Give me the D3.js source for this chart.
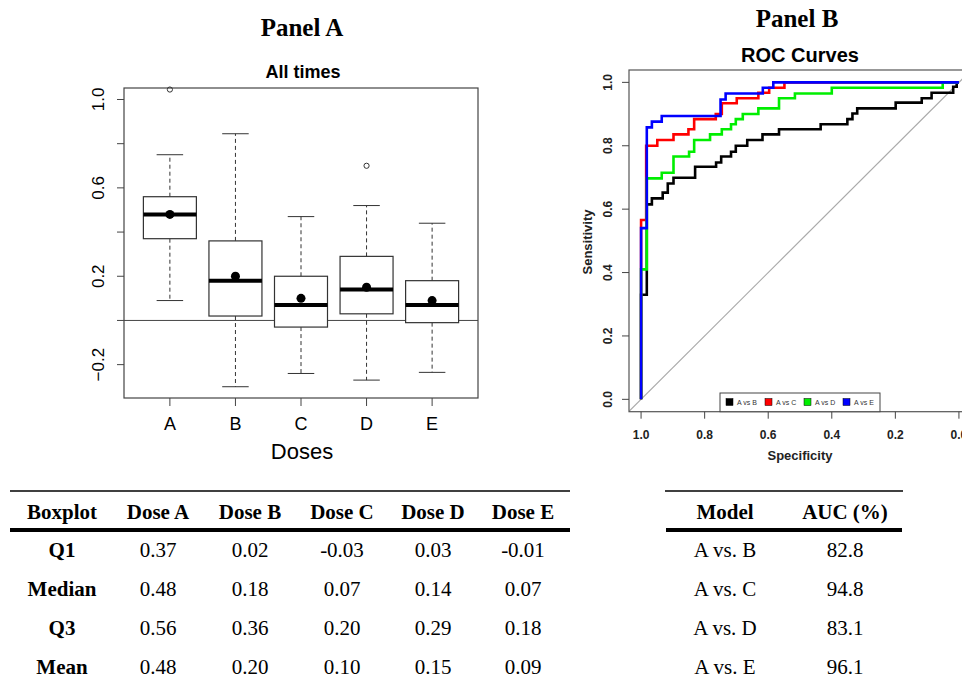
<!DOCTYPE html>
<html>
<head>
<meta charset="utf-8">
<title>Panels A and B</title>
<style>
  body { margin: 0; background: #fff; }
  svg { display: block; }
  .serif { font-family: "Liberation Serif", "Times New Roman", serif; }
  .sans { font-family: "Liberation Sans", Arial, sans-serif; }
</style>
</head>
<body>
<script src="https://cdnjs.cloudflare.com/ajax/libs/d3/7.8.5/d3.min.js"></script>
<script>
// ---- boxplot data (Panel A) ----
const doses = ['A', 'B', 'C', 'D', 'E'];
const q1 = [0.37, 0.02, -0.03, 0.03, -0.01];
const median = [0.48, 0.18, 0.07, 0.14, 0.07];
const q3 = [0.56, 0.36, 0.20, 0.29, 0.18];
const mean = [0.48, 0.20, 0.10, 0.15, 0.09];
const whiskLo = [0.09, -0.30, -0.24, -0.27, -0.235];
const whiskHi = [0.75, 0.845, 0.47, 0.52, 0.44];
const outliers = [[1.045], [], [], [0.70], []];
const yTicksA = [-0.2, 0, 0.2, 0.4, 0.6, 0.8, 1.0];
const yLabelsA = [-0.2, 0.2, 0.6, 1.0];

// ---- ROC data (Panel B), points joined vertical-then-horizontal ----
const rocNames = ['A vs B', 'A vs C', 'A vs D', 'A vs E'];
const rocColors = ['black', 'red', '#00ee00', 'blue'];
const specAB = [1, 0.982, 0.966, 0.932, 0.916, 0.898, 0.83, 0.764, 0.748, 0.717, 0.702, 0.666, 0.618, 0.566, 0.435, 0.351, 0.335, 0.32, 0.199, 0.117, 0.086, 0.018, 0.007, 0];
const sensAB = [0, 0.33, 0.615, 0.634, 0.652, 0.681, 0.699, 0.734, 0.747, 0.766, 0.781, 0.80, 0.818, 0.836, 0.852, 0.868, 0.884, 0.902, 0.918, 0.936, 0.95, 0.967, 0.986, 1.0];
const specAC = [1, 0.984, 0.949, 0.898, 0.851, 0.833, 0.765, 0.746, 0.699, 0.631, 0.597, 0.549, 0];
const sensAC = [0, 0.566, 0.80, 0.818, 0.836, 0.852, 0.884, 0.90, 0.934, 0.95, 0.967, 0.983, 1.0];
const specAD = [1, 0.982, 0.935, 0.898, 0.849, 0.833, 0.783, 0.746, 0.717, 0.702, 0.68, 0.631, 0.566, 0.516, 0.40, 0.051, 0];
const sensAD = [0, 0.41, 0.697, 0.715, 0.766, 0.781, 0.818, 0.836, 0.852, 0.868, 0.884, 0.90, 0.918, 0.95, 0.965, 0.983, 1.0];
const specAE = [1, 0.982, 0.966, 0.935, 0.75, 0.734, 0.617, 0.584, 0];
const sensAE = [0, 0.54, 0.858, 0.876, 0.894, 0.946, 0.965, 0.983, 1.0];
const rocTicks = [0, 0.2, 0.4, 0.6, 0.8, 1.0];

// ---- tables ----
const boxRows = ['Q1', 'Median', 'Q3', 'Mean'];
const boxHeader = ['Boxplot', 'Dose A', 'Dose B', 'Dose C', 'Dose D', 'Dose E'];
const aucModels = ['A vs. B', 'A vs. C', 'A vs. D', 'A vs. E'];
const aucValues = ['82.8', '94.8', '83.1', '96.1'];

const svg = d3.select('body').append('svg')
  .attr('width', 962).attr('height', 678);

// ================= Panel A =================
const boxA = {l: 124, r: 478, t: 88, b: 398};
const xA = d3.scalePoint().domain(doses).range([boxA.l, boxA.r]).padding(0.7);
const yA = d3.scaleLinear().domain([-0.351, 1.052]).range([boxA.b, boxA.t]);
const bw = 53;

svg.append('text').attr('class', 'serif').attr('x', 302).attr('y', 36)
  .attr('text-anchor', 'middle').attr('font-size', 25).attr('font-weight', 'bold').text('Panel A');
svg.append('text').attr('class', 'sans').attr('x', 303).attr('y', 78)
  .attr('text-anchor', 'middle').attr('font-size', 18).attr('font-weight', 'bold').text('All times');

const gA = svg.append('g');
gA.append('rect').attr('x', boxA.l).attr('y', boxA.t)
  .attr('width', boxA.r - boxA.l).attr('height', boxA.b - boxA.t)
  .attr('fill', 'none').attr('stroke', '#444').attr('stroke-width', 1.2);

// zero line
gA.append('line').attr('x1', boxA.l).attr('x2', boxA.r)
  .attr('y1', yA(0)).attr('y2', yA(0)).attr('stroke', '#444');

// y axis ticks
gA.selectAll('.ytick').data(yTicksA).enter().append('line')
  .attr('x1', boxA.l - 7).attr('x2', boxA.l)
  .attr('y1', d => yA(d)).attr('y2', d => yA(d)).attr('stroke', '#444');
gA.selectAll('.ylab').data(yLabelsA).enter().append('text')
  .attr('class', 'sans').attr('font-size', 17).attr('text-anchor', 'middle')
  .attr('transform', d => `translate(104,${yA(d)}) rotate(-90)`)
  .text(d => d3.format('.1f')(d));

// x axis ticks & labels
gA.selectAll('.xtick').data(doses).enter().append('line')
  .attr('x1', d => xA(d)).attr('x2', d => xA(d))
  .attr('y1', boxA.b).attr('y2', boxA.b + 8).attr('stroke', '#444');
gA.selectAll('.xlab').data(doses).enter().append('text')
  .attr('class', 'sans').attr('font-size', 18).attr('text-anchor', 'middle')
  .attr('x', d => xA(d)).attr('y', 430).text(d => d);
svg.append('text').attr('class', 'sans').attr('x', 302).attr('y', 459)
  .attr('text-anchor', 'middle').attr('font-size', 22).text('Doses');

doses.forEach((d, i) => {
  const cx = xA(d);
  // whiskers
  gA.append('line').attr('x1', cx).attr('x2', cx).attr('y1', yA(q3[i])).attr('y2', yA(whiskHi[i]))
    .attr('stroke', '#333').attr('stroke-dasharray', '4,3');
  gA.append('line').attr('x1', cx).attr('x2', cx).attr('y1', yA(q1[i])).attr('y2', yA(whiskLo[i]))
    .attr('stroke', '#333').attr('stroke-dasharray', '4,3');
  [whiskHi[i], whiskLo[i]].forEach(v => {
    gA.append('line').attr('x1', cx - bw / 4).attr('x2', cx + bw / 4)
      .attr('y1', yA(v)).attr('y2', yA(v)).attr('stroke', '#333');
  });
  // box
  gA.append('rect').attr('x', cx - bw / 2).attr('y', yA(q3[i]))
    .attr('width', bw).attr('height', yA(q1[i]) - yA(q3[i]))
    .attr('fill', 'white').attr('stroke', '#333').attr('stroke-width', 1.2);
  // median
  gA.append('line').attr('x1', cx - bw / 2).attr('x2', cx + bw / 2)
    .attr('y1', yA(median[i])).attr('y2', yA(median[i]))
    .attr('stroke', 'black').attr('stroke-width', 4);
  // mean
  gA.append('circle').attr('cx', cx).attr('cy', yA(mean[i])).attr('r', 4.5).attr('fill', 'black');
  // outliers
  outliers[i].forEach(v => {
    gA.append('circle').attr('cx', cx).attr('cy', yA(v)).attr('r', 2.6)
      .attr('fill', 'none').attr('stroke', '#333');
  });
});

// ================= Panel B =================
const boxB = {l: 629, r: 971, t: 70, b: 411.7};
const xB = d3.scaleLinear().domain([1.038, -0.038]).range([boxB.l, boxB.r]);
const yB = d3.scaleLinear().domain([-0.039, 1.039]).range([boxB.b, boxB.t]);

svg.append('text').attr('class', 'serif').attr('x', 797).attr('y', 27)
  .attr('text-anchor', 'middle').attr('font-size', 25).attr('font-weight', 'bold').text('Panel B');
svg.append('text').attr('class', 'sans').attr('x', 800).attr('y', 62)
  .attr('text-anchor', 'middle').attr('font-size', 20).attr('font-weight', 'bold').text('ROC Curves');

const gB = svg.append('g');
svg.append('clipPath').attr('id', 'clipB').append('rect')
  .attr('x', boxB.l).attr('y', boxB.t).attr('width', boxB.r - boxB.l).attr('height', boxB.b - boxB.t);

// diagonal reference
gB.append('line').attr('clip-path', 'url(#clipB)')
  .attr('x1', xB(1.038)).attr('y1', yB(-0.038)).attr('x2', xB(-0.038)).attr('y2', yB(1.038))
  .attr('stroke', '#aaa').attr('stroke-width', 1.2);

const rocLine = d3.line().x(d => xB(d[0])).y(d => yB(d[1])).curve(d3.curveStepBefore);
const rocSets = [[specAB, sensAB], [specAC, sensAC], [specAD, sensAD], [specAE, sensAE]];
rocSets.forEach((s, k) => {
  const pts = s[0].map((v, j) => [v, s[1][j]]);
  gB.append('path').attr('clip-path', 'url(#clipB)').attr('d', rocLine(pts))
    .attr('fill', 'none').attr('stroke', rocColors[k]).attr('stroke-width', 2.6);
});

gB.append('rect').attr('x', boxB.l).attr('y', boxB.t)
  .attr('width', boxB.r - boxB.l).attr('height', boxB.b - boxB.t)
  .attr('fill', 'none').attr('stroke', '#555').attr('stroke-width', 1.2);

// axes
gB.selectAll('.ytick').data(rocTicks).enter().append('line')
  .attr('x1', boxB.l - 7).attr('x2', boxB.l)
  .attr('y1', d => yB(d)).attr('y2', d => yB(d)).attr('stroke', '#444');
gB.selectAll('.ylab').data(rocTicks).enter().append('text')
  .attr('class', 'sans').attr('font-size', 12).attr('font-weight', 'bold').attr('text-anchor', 'middle')
  .attr('fill', '#222')
  .attr('transform', d => `translate(612,${yB(d)}) rotate(-90)`)
  .text(d => d3.format('.1f')(d));
gB.selectAll('.xtick').data(rocTicks).enter().append('line')
  .attr('x1', d => xB(d)).attr('x2', d => xB(d))
  .attr('y1', boxB.b).attr('y2', boxB.b + 7).attr('stroke', '#444');
gB.selectAll('.xlab').data(rocTicks).enter().append('text')
  .attr('class', 'sans').attr('font-size', 12).attr('font-weight', 'bold').attr('text-anchor', 'middle')
  .attr('fill', '#222')
  .attr('x', d => xB(d)).attr('y', 439).text(d => d3.format('.1f')(d));
svg.append('text').attr('class', 'sans').attr('x', 800).attr('y', 460)
  .attr('text-anchor', 'middle').attr('font-size', 13).attr('font-weight', 'bold').attr('fill', '#222').text('Specificity');
svg.append('text').attr('class', 'sans').attr('font-size', 13).attr('font-weight', 'bold').attr('fill', '#222')
  .attr('text-anchor', 'middle').attr('transform', 'translate(592,242) rotate(-90)').text('Sensitivity');

// legend
const leg = gB.append('g');
leg.append('rect').attr('x', 720).attr('y', 393).attr('width', 160).attr('height', 18.7)
  .attr('fill', 'white').attr('stroke', '#444');
rocNames.forEach((n, k) => {
  const lx = 726 + k * 39;
  leg.append('rect').attr('x', lx).attr('y', 398.5).attr('width', 7).attr('height', 7)
    .attr('fill', rocColors[k]).attr('stroke', 'black').attr('stroke-width', 0.5);
  leg.append('text').attr('class', 'sans').attr('x', lx + 11).attr('y', 405)
    .attr('font-size', 7).attr('fill', '#333').text(n);
});

// ================= Tables =================
const colX = [62, 158, 250, 342, 433, 523];
const rowY = [557, 596, 635, 674];
const fs = 21;
const tA = svg.append('g').attr('class', 'serif');
tA.append('line').attr('x1', 10).attr('x2', 570).attr('y1', 491).attr('y2', 491)
  .attr('stroke', 'black').attr('stroke-width', 1.6);
tA.append('line').attr('x1', 10).attr('x2', 570).attr('y1', 530).attr('y2', 530)
  .attr('stroke', 'black').attr('stroke-width', 4);
boxHeader.forEach((h, j) => {
  tA.append('text').attr('x', colX[j]).attr('y', 519).attr('text-anchor', 'middle')
    .attr('font-size', fs).attr('font-weight', 'bold').attr('textLength', null).text(h);
});
const boxStats = [q1, median, q3, mean];
boxRows.forEach((r, i) => {
  tA.append('text').attr('x', colX[0]).attr('y', rowY[i]).attr('text-anchor', 'middle')
    .attr('font-size', fs).attr('font-weight', 'bold').text(r);
  boxStats[i].forEach((v, j) => {
    tA.append('text').attr('x', colX[j + 1]).attr('y', rowY[i]).attr('text-anchor', 'middle')
      .attr('font-size', fs).text(d3.format('.2f')(v).replace('\u2212', '-'));
  });
});

const tB = svg.append('g').attr('class', 'serif');
tB.append('line').attr('x1', 665).attr('x2', 903).attr('y1', 491).attr('y2', 491)
  .attr('stroke', 'black').attr('stroke-width', 1.6);
tB.append('line').attr('x1', 666).attr('x2', 902).attr('y1', 530).attr('y2', 530)
  .attr('stroke', 'black').attr('stroke-width', 4);
tB.append('text').attr('x', 725).attr('y', 519).attr('text-anchor', 'middle')
  .attr('font-size', fs).attr('font-weight', 'bold').text('Model');
tB.append('text').attr('x', 845).attr('y', 519).attr('text-anchor', 'middle')
  .attr('font-size', fs).attr('font-weight', 'bold').text('AUC (%)');
aucModels.forEach((m, i) => {
  tB.append('text').attr('x', 725).attr('y', rowY[i]).attr('text-anchor', 'middle')
    .attr('font-size', fs).text(m);
  tB.append('text').attr('x', 845).attr('y', rowY[i]).attr('text-anchor', 'middle')
    .attr('font-size', fs).text(aucValues[i]);
});
</script>
</body>
</html>
